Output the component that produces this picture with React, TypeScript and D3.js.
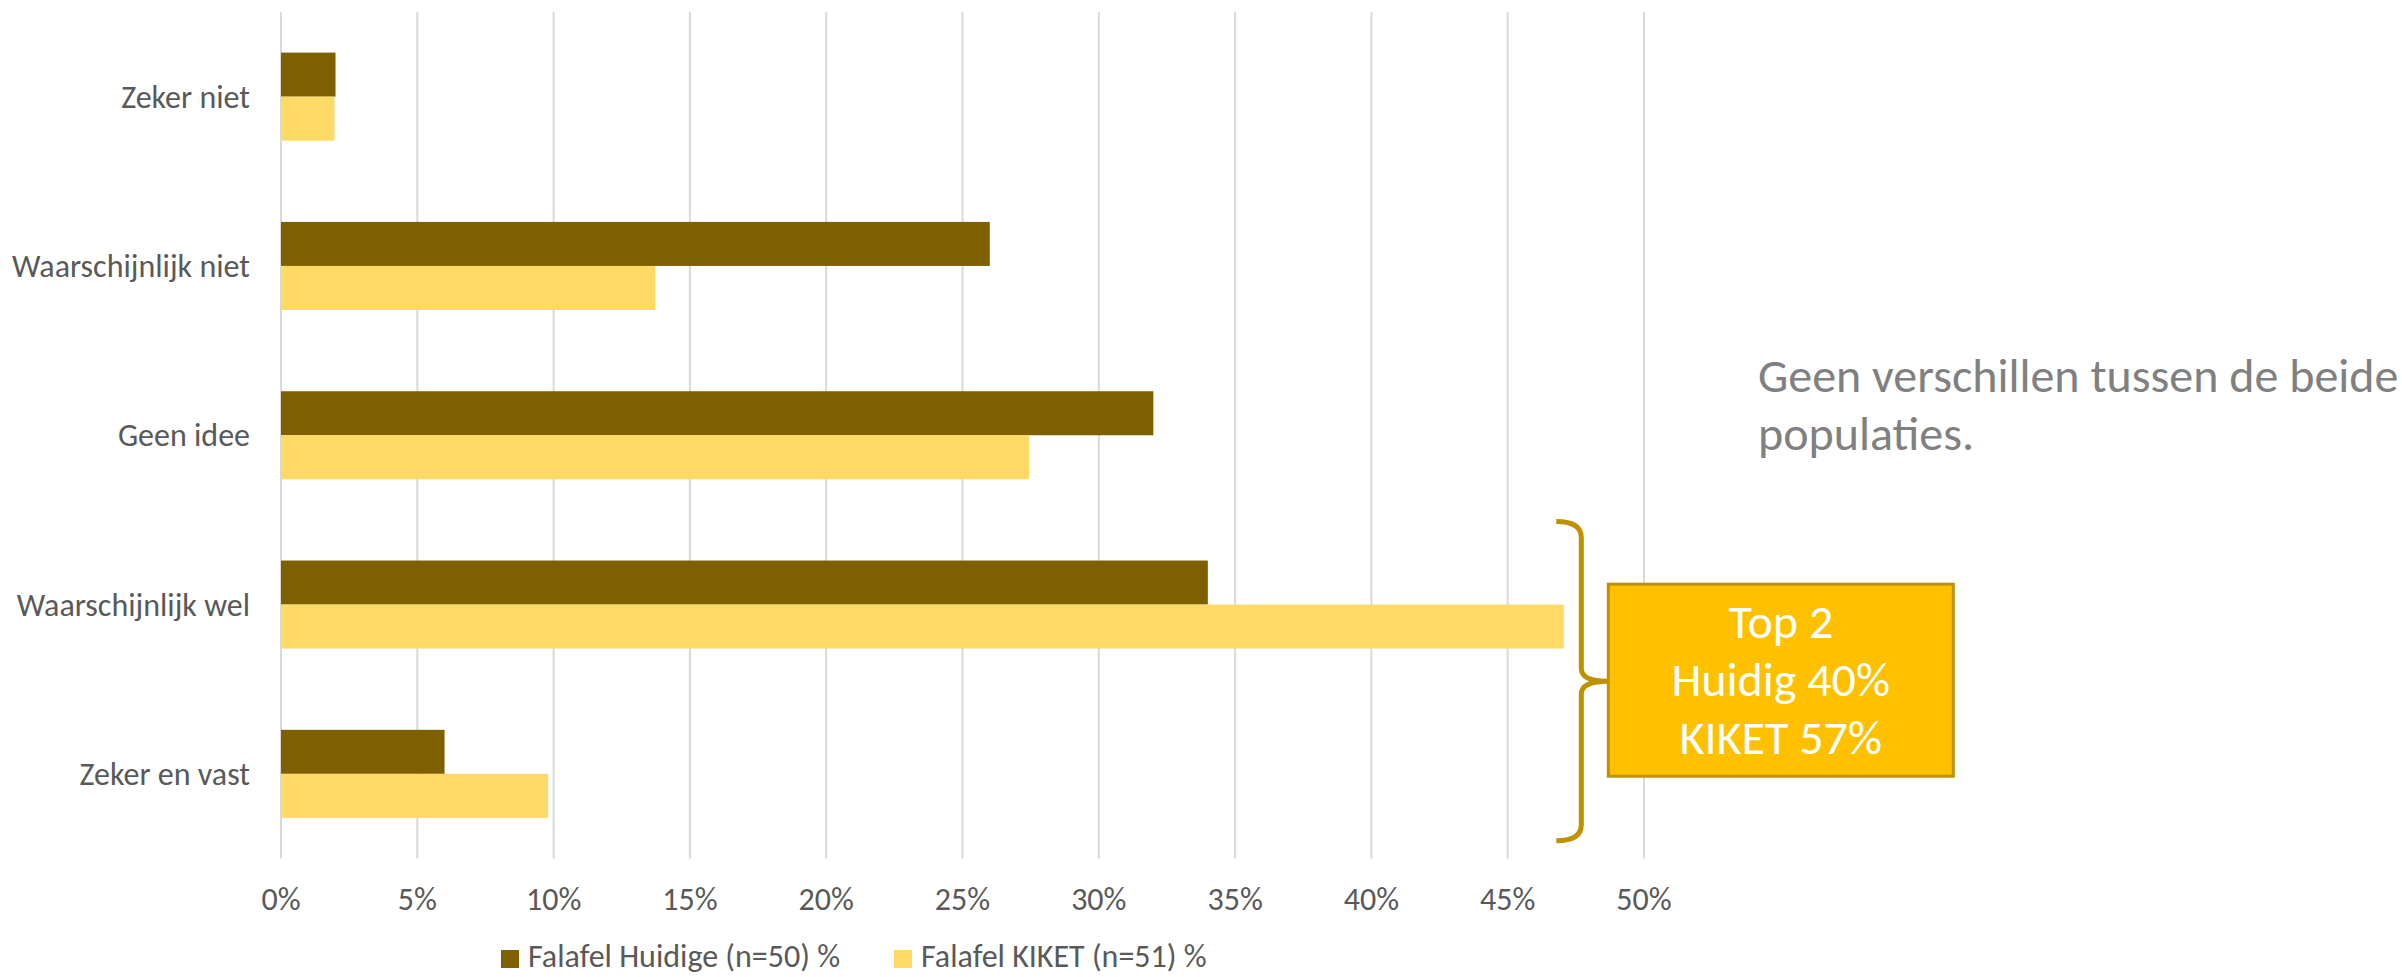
import React from 'react';
import * as d3 from 'd3';

// Survey answers (top to bottom) and share of respondents per population
const categories = ['Zeker niet', 'Waarschijnlijk niet', 'Geen idee', 'Waarschijnlijk wel', 'Zeker en vast'];
const seriesNames = ['Falafel Huidige (n=50) %', 'Falafel KIKET (n=51) %'];
const huidige = [0.02, 0.26, 0.32, 0.34, 0.06];
const kiket = [0.0196, 0.1373, 0.2745, 0.4706, 0.098];
const xTicks = [0, 0.05, 0.1, 0.15, 0.2, 0.25, 0.3, 0.35, 0.4, 0.45, 0.5];
const noteLines = ['Geen verschillen tussen de beide', 'populaties.'];
const boxLines = ['Top 2', 'Huidig 40%', 'KIKET 57%'];

const colors = ['#7F6000', '#FFD966'];
const FONT = 'Carlito, Calibri, Lato, sans-serif';

const W = 2402;
const H = 977;
const margin = { top: 12, right: 758, bottom: 118.5, left: 281 };

export default function App() {
  const x = d3.scaleLinear().domain([0, 0.5]).range([margin.left, W - margin.right]);
  const y = d3.scaleBand<string>()
    .domain(categories)
    .range([margin.top, H - margin.bottom])
    .paddingInner(0.48)
    .paddingOuter(0.24);
  const ySub = d3.scaleBand<number>().domain([0, 1]).range([0, y.bandwidth()]);
  const series = [huidige, kiket];

  // brace around the two top answers
  const top = y('Waarschijnlijk wel')! - 39;
  const bottom = y('Zeker en vast')! + y.bandwidth() + 23;
  const mid = (top + bottom) / 2;
  const bx = x(0.477);
  const arm = bx - 25;
  const tip = bx + 26;
  const brace = `M${arm},${top} Q${bx},${top} ${bx},${top + 16} L${bx},${mid - 13} Q${bx},${mid} ${tip},${mid} ` +
    `Q${bx},${mid} ${bx},${mid + 13} L${bx},${bottom - 16} Q${bx},${bottom} ${arm},${bottom}`;

  const box = { x: tip + 1, y: mid - 97, w: 345, h: 192 };

  return (
    <div style={{ position: 'absolute', left: 0, top: 0 }}>
      <svg width={W} height={H} style={{ display: 'block', background: '#fff' }}>
        {/* gridlines */}
        {xTicks.map(t => (
          <line key={t} x1={x(t)} x2={x(t)} y1={margin.top} y2={H - margin.bottom}
            stroke="#D9D9D9" strokeWidth={2} />
        ))}

        {/* bars */}
        {categories.map((c, i) => (
          <g key={c}>
            {series.map((s, k) => (
              <rect key={k} x={x(0)} y={y(c)! + ySub(k)!} width={x(s[i]) - x(0)} height={ySub.bandwidth()}
                fill={colors[k]} />
            ))}
          </g>
        ))}

        {/* category labels */}
        {categories.map(c => (
          <text key={c} x={margin.left - 31} y={y(c)! + y.bandwidth() / 2 + 11} textAnchor="end"
            fontFamily={FONT} fontSize={32} fill="#595959">{c}</text>
        ))}

        {/* x tick labels */}
        {xTicks.map(t => (
          <text key={t} x={x(t)} y={910} textAnchor="middle" fontFamily={FONT} fontSize={32} fill="#595959">
            {d3.format('.0%')(t)}
          </text>
        ))}

        {/* legend */}
        {seriesNames.map((n, k) => {
          const lx = k === 0 ? 501 : 894;
          return (
            <g key={n}>
              <rect x={lx} y={950} width={18} height={18} fill={colors[k]} />
              <text x={lx + 27} y={967} fontFamily={FONT} fontSize={32} fill="#595959">{n}</text>
            </g>
          );
        })}

        {/* note */}
        {noteLines.map((l, i) => (
          <text key={l} x={1758} y={392 + i * 58} fontFamily={FONT} fontSize={48} fill="#808080">{l}</text>
        ))}

        {/* brace + callout box */}
        <path d={brace} fill="none" stroke="#BF9000" strokeWidth={5} />
        <rect x={box.x} y={box.y} width={box.w} height={box.h} fill="#FFC000" stroke="#BF9000" strokeWidth={3} />
        {boxLines.map((l, i) => (
          <text key={l} x={box.x + box.w / 2} y={box.y + 54 + i * 58} textAnchor="middle"
            fontFamily={FONT} fontSize={48} fill="#fff">{l}</text>
        ))}
      </svg>
    </div>
  );
}
